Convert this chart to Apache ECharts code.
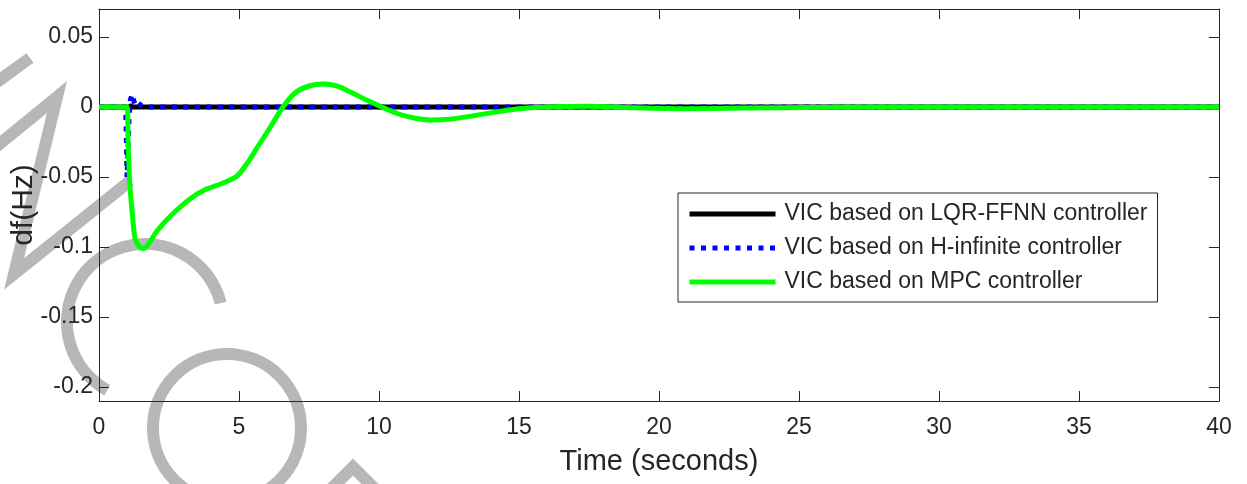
<!DOCTYPE html>
<html><head><meta charset="utf-8">
<script src="https://cdn.jsdelivr.net/npm/echarts@6/dist/echarts.min.js"></script>
<style>html,body{margin:0;padding:0;background:#fff}#c{width:1247px;height:484px}</style>
</head><body><div id="c"></div>
<script>
// ---- data ----
const xTicks = [0, 5, 10, 15, 20, 25, 30, 35, 40];
const yTicks = [-0.2, -0.15, -0.1, -0.05, 0, 0.05];
const yTickLabels = ['-0.2', '-0.15', '-0.1', '-0.05', '0', '0.05'];
const seriesNames = ['VIC based on LQR-FFNN controller', 'VIC based on H-infinite controller', 'VIC based on MPC controller'];

const tLqr = [0, 1.0, 1.05, 1.1, 1.2, 1.4, 40];
const vLqr = [0, 0, -0.002, 0.001, 0, 0, 0];

const tHinf = [0, 0.95, 0.98, 1.0, 1.03, 1.07, 1.12, 1.18, 1.25, 1.32, 1.4, 1.5, 1.7, 40];
const vHinf = [0, 0, -0.025, -0.05, -0.035, -0.01, 0.005, 0.009, 0.004, 0.001, 0.003, 0.001, 0, 0];

const tMpc = [0, 1.0, 1.04, 1.1, 1.18, 1.29, 1.45, 1.6, 1.8, 2.07, 2.6, 3.25, 3.8, 4.43, 4.93, 5.3, 5.64, 6.1, 6.57, 7.0, 7.5, 8.0, 8.5, 9.0, 9.5, 10.1, 10.7, 11.3, 11.93, 12.6, 13.3, 14.0, 14.9, 16, 17.5, 19, 21, 23, 26, 30, 40];
const vMpc = [0, 0, -0.026, -0.055, -0.074, -0.094, -0.1, -0.101, -0.097, -0.0886, -0.077, -0.0657, -0.059, -0.0543, -0.0493, -0.04, -0.0293, -0.015, 0, 0.01, 0.015, 0.0164, 0.015, 0.0105, 0.0055, 0, -0.005, -0.008, -0.0093, -0.0085, -0.0065, -0.0042, -0.0015, 0, 0.0005, -0.0005, -0.0012, -0.0008, -0.0002, 0, 0];

const pairs = (t, v) => t.map((x, i) => [x, v[i]]);
const FONT = 'Liberation Sans, Arial, sans-serif';
const INK = '#262626';
const WM = '#b7b7b7';

const chart = echarts.init(document.getElementById('c'), null, {renderer: 'canvas'});
const yFmt = v => {
  let best = 0, bd = 1e9;
  yTicks.forEach((t, i) => { const d = Math.abs(t - v); if (d < bd) { bd = d; best = i; } });
  return yTickLabels[best];
};
const axisCommon = {
  axisLine: {show: true, onZero: false, lineStyle: {color: INK, width: 1}},
  splitLine: {show: false}
};
chart.setOption({
  animation: false,
  backgroundColor: '#fff',
  grid: {left: 99, top: 9, right: 28, bottom: 83, containLabel: false, outerBoundsMode: 'none'},
  xAxis: [
    Object.assign({}, axisCommon, {
      type: 'value', position: 'bottom', min: 0, max: 40, interval: 5,
      axisTick: {show: true, inside: true, length: 10, lineStyle: {color: INK}},
      axisLabel: {show: true, margin: 15, color: INK, fontFamily: FONT, fontSize: 23},
      name: 'Time (seconds)', nameLocation: 'middle', nameGap: 46,
      nameTextStyle: {color: INK, fontFamily: FONT, fontSize: 29}
    }),
    Object.assign({}, axisCommon, {
      type: 'value', position: 'top', min: 0, max: 40, interval: 5,
      axisTick: {show: true, inside: true, length: 10, lineStyle: {color: INK}},
      axisLabel: {show: false}
    })
  ],
  yAxis: [
    Object.assign({}, axisCommon, {
      type: 'value', position: 'left', min: -0.21, max: 0.07,
      axisTick: {show: true, inside: true, length: 10, customValues: yTicks, lineStyle: {color: INK}},
      axisLabel: {show: true, margin: 6, color: INK, fontFamily: FONT, fontSize: 23, customValues: yTicks, formatter: yFmt},
      name: 'df(Hz)', nameLocation: 'middle', nameGap: 60, nameRotate: 90, nameMoveOverlap: false,
      nameTextStyle: {color: INK, fontFamily: FONT, fontSize: 30}
    }),
    Object.assign({}, axisCommon, {
      type: 'value', position: 'right', min: -0.21, max: 0.07,
      axisTick: {show: true, inside: true, length: 10, customValues: yTicks, lineStyle: {color: INK}},
      axisLabel: {show: false, customValues: yTicks}
    })
  ],
  legend: {
    show: true, orient: 'vertical', left: 678, top: 193,
    backgroundColor: '#fff', borderColor: INK, borderWidth: 1,
    padding: [8, 10, 7, 9], itemGap: 8, itemWidth: 86, itemHeight: 14,
    itemStyle: {opacity: 0},
    lineStyle: {width: 5},
    textStyle: {color: INK, fontFamily: FONT, fontSize: 23, lineHeight: 26, padding: [0, 0, 0, 4]},
    data: seriesNames
  },
  graphic: {
    elements: [
      {type: 'polyline', z: -10, silent: true, shape: {points: [[30, 58], [-10, 87]]}, style: {stroke: WM, lineWidth: 12, fill: null}},
      {type: 'polyline', z: -10, silent: true, shape: {points: [[-8, 150], [57, 97], [14, 274], [130, 181]]}, style: {stroke: WM, lineWidth: 12, fill: null, lineJoin: 'miter'}},
      {type: 'arc', z: -10, silent: true, shape: {cx: 145, cy: 322, r: 78, startAngle: 119 * Math.PI / 180, endAngle: 346 * Math.PI / 180, clockwise: true}, style: {stroke: WM, lineWidth: 12, fill: null}},
      {type: 'circle', z: -10, silent: true, shape: {cx: 227, cy: 428, r: 74}, style: {stroke: WM, lineWidth: 12, fill: null}},
      {type: 'polyline', z: -10, silent: true, shape: {points: [[315, 505], [353, 467], [391, 505]]}, style: {stroke: WM, lineWidth: 12, fill: null, lineJoin: 'miter'}}
    ]
  },
  series: [
    {name: seriesNames[0], type: 'line', xAxisIndex: 0, yAxisIndex: 0, data: pairs(tLqr, vLqr), symbol: 'none', showSymbol: false,
      lineStyle: {color: '#000000', width: 5}, itemStyle: {color: '#000000'}},
    {name: seriesNames[1], type: 'line', xAxisIndex: 0, yAxisIndex: 0, data: pairs(tHinf, vHinf), symbol: 'none', showSymbol: false,
      lineStyle: {color: '#0000ff', width: 5, type: [5, 6.5], cap: 'butt'}, itemStyle: {color: '#0000ff'}},
    {name: seriesNames[2], type: 'line', xAxisIndex: 0, yAxisIndex: 0, data: pairs(tMpc, vMpc), symbol: 'none', showSymbol: false, smooth: 0.3,
      lineStyle: {color: '#00ff00', width: 5}, itemStyle: {color: '#00ff00'}}
  ]
});
</script>
</body></html>
